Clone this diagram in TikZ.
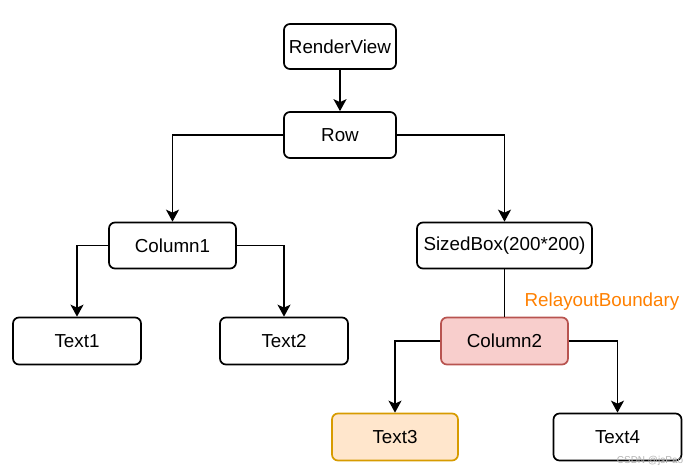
\documentclass[tikz,border=0pt]{standalone}
\usepackage{fontspec}
\setmainfont{Liberation Sans}
\usetikzlibrary{arrows.meta}
\definecolor{redfill}{HTML}{F8CECC}
\definecolor{redline}{HTML}{B85450}
\definecolor{orfill}{HTML}{FFE6CC}
\definecolor{orline}{HTML}{D79B00}
\definecolor{boundary}{HTML}{FF8000}
\tikzset{
  box/.style={draw=black, line width=1.7pt, rounded corners=6pt, fill=white, inner sep=0pt,
    minimum height=46pt, font=\fontsize{18.8}{22}\selectfont},
  conn/.style={line width=1.7pt, -{Stealth[length=12pt,width=13pt,inset=3pt]}},
  plainconn/.style={line width=1.7pt}
}
\begin{document}
\begin{tikzpicture}[x=1pt,y=-1pt]
\useasboundingbox (0,0) rectangle (699,476);
\node[box, minimum width=112pt, minimum height=45pt] (rv) at (340,46.5) {RenderView};
\node[box, minimum width=112pt] (row) at (340,135) {Row};
\node[box, minimum width=127pt] (c1) at (172.5,245.5) {Column1};
\node[box, minimum width=175pt] (sb) at (504.5,245.5) {SizedBox(200*200)};
\node[box, minimum width=128pt, minimum height=47pt] (t1) at (77,341) {Text1};
\node[box, minimum width=128pt, minimum height=47pt] (t2) at (284,341) {Text2};
\node[box, minimum width=127pt, minimum height=47pt, draw=redline, fill=redfill] (c2) at (504.5,341) {Column2};
\node[box, minimum width=126pt, minimum height=47pt, draw=orline, fill=orfill] (t3) at (395,437) {Text3};
\node[box, minimum width=128pt, minimum height=47pt] (t4) at (617.5,437) {Text4};
\node[text=boundary, font=\fontsize{18.8}{22}\selectfont, inner sep=0pt] (rb) at (602,302) {RelayoutBoundary};
\node[text=gray!60, font=\fontsize{10}{12}\selectfont, inner sep=0pt] (wm) at (650,461) {CSDN @jsPao};

\draw[conn] (rv.south) -- (row.north);
\draw[conn] (row.west) -| (c1.north);
\draw[conn] (row.east) -| (sb.north);
\draw[conn] (c1.west) -| (t1.north);
\draw[conn] (c1.east) -| (t2.north);
\draw[plainconn] (sb.south) -- (c2.north);
\draw[conn] (c2.west) -| (t3.north);
\draw[conn] (c2.east) -| (t4.north);
\end{tikzpicture}
\end{document}
